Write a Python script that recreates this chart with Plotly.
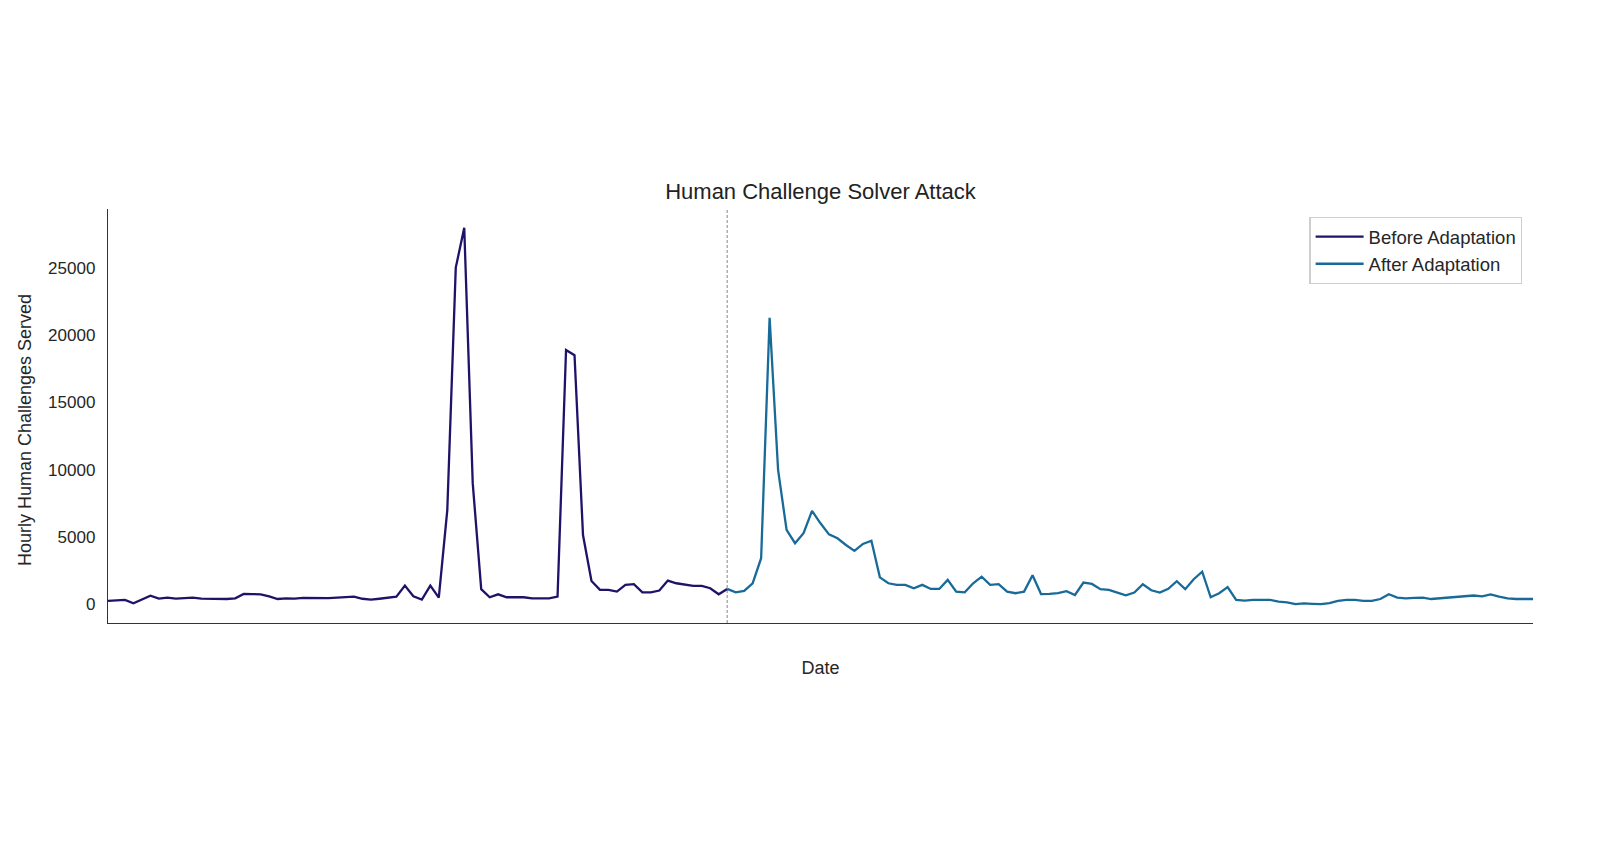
import pandas as pd
import plotly.graph_objects as go

# ---- data (hourly values) ----
start_time = "2023-01-01 00:00"
adaptation_index = 73  # hour at which the adaptation happened

before_values = [
    260, 300, 330, 90, 370, 650, 430, 500, 430, 450,
    500, 430, 420, 400, 400, 450, 780, 770, 740, 600,
    400, 450, 430, 480, 470, 460, 470, 500, 530, 580,
    420, 350, 420, 480, 580, 1400, 600, 350, 1400, 500,
    7000, 25000, 27950, 9000, 1130, 530, 750, 530, 530, 530,
    450, 430, 450, 580, 18880, 18500, 5150, 1740, 1080, 1080,
    950, 1450, 1500, 900, 900, 1030, 1770, 1570, 1450, 1380,
    1380, 1200, 750, 1150,
]

after_values = [
    1150, 900, 1000, 1570, 3430, 21280, 9980, 5530, 4540, 5280,
    6940, 6020, 5200, 4910, 4410, 3970, 4490, 4730, 2010, 1570,
    1450, 1450, 1200, 1450, 1150, 1150, 1820, 950, 900, 1570,
    2060, 1450, 1500, 950, 830, 950, 2170, 770, 780, 830,
    980, 700, 1620, 1520, 1130, 1080, 880, 680, 880, 1500,
    1050, 880, 1160, 1720, 1130, 1870, 2430, 530, 830, 1280,
    330, 280, 330, 330, 330, 210, 150, 15, 70, 40,
    15, 100, 260, 330, 330, 260, 260, 400, 760, 510,
    450, 480, 500, 400, 450, 510, 510, 560, 660, 600,
    740, 580, 450, 400, 400, 400,
]

series_names = ["Before Adaptation", "After Adaptation"]
series_colors = ["#1e1368", "#186a99"]
y_ticks = [0, 5000, 10000, 15000, 20000, 25000]

n_total = len(before_values) + len(after_values) - 1
dates = pd.date_range(start_time, periods=n_total, freq="h")
before_dates = dates[: len(before_values)]
after_dates = dates[adaptation_index: adaptation_index + len(after_values)]

FONT = "Liberation Sans, Arial, Helvetica, sans-serif"
TEXT = "#262626"

# page body has an 8px default margin, so the figure is 8px smaller
W, H = 1592, 853

fig = go.Figure()
fig.add_trace(go.Scatter(x=before_dates, y=before_values, mode="lines",
                         name=series_names[0],
                         line=dict(color=series_colors[0], width=2.3)))
fig.add_trace(go.Scatter(x=after_dates, y=after_values, mode="lines",
                         name=series_names[1],
                         line=dict(color=series_colors[1], width=2.3)))

fig.add_shape(type="line", xref="x", yref="paper",
              x0=dates[adaptation_index], x1=dates[adaptation_index], y0=0, y1=1,
              line=dict(color="#9a9a9a", width=1.2, dash="3px,2px"), layer="below")

# y-axis title (placed slightly below the axis centre, as in the reference)
fig.add_annotation(text="Hourly Human Challenges Served", textangle=-90,
                   xref="paper", yref="paper", x=0, y=0.4647,
                   xanchor="center", yanchor="middle", xshift=-83.5,
                   showarrow=False,
                   font=dict(size=18, color=TEXT, family=FONT))

fig.update_layout(
    width=W, height=H,
    paper_bgcolor="white", plot_bgcolor="white",
    margin=dict(l=100, r=67, t=201, b=238),
    font=dict(family=FONT, color=TEXT, size=17),
    title=dict(text="Human Challenge Solver Attack", x=0.5, xref="paper",
               xanchor="center", y=1 - 183 / H, yanchor="middle",
               font=dict(size=22, color="#222222", family=FONT)),
    showlegend=True,
    legend=dict(x=0.9925, y=0.981, xanchor="right", yanchor="top",
                bgcolor="white", bordercolor="#cfcfcf", borderwidth=1.3,
                font=dict(size=18.5, color=TEXT, family=FONT),
                itemwidth=48),
    xaxis=dict(range=[dates[0], dates[-1]], showgrid=False, zeroline=False,
               showticklabels=False, ticks="", showline=True,
               linecolor="#333333", linewidth=1.4,
               title=dict(text="Date", standoff=38,
                          font=dict(size=18, color=TEXT, family=FONT))),
    yaxis=dict(range=[-1380, 29350], showgrid=False, zeroline=False,
               tickvals=y_ticks, ticktext=[str(v) for v in y_ticks],
               ticks="", showline=True, linecolor="#333333", linewidth=1.4,
               ticklabelstandoff=8,
               tickfont=dict(size=17, color=TEXT, family=FONT)),
)

fig.write_html("out.html")
